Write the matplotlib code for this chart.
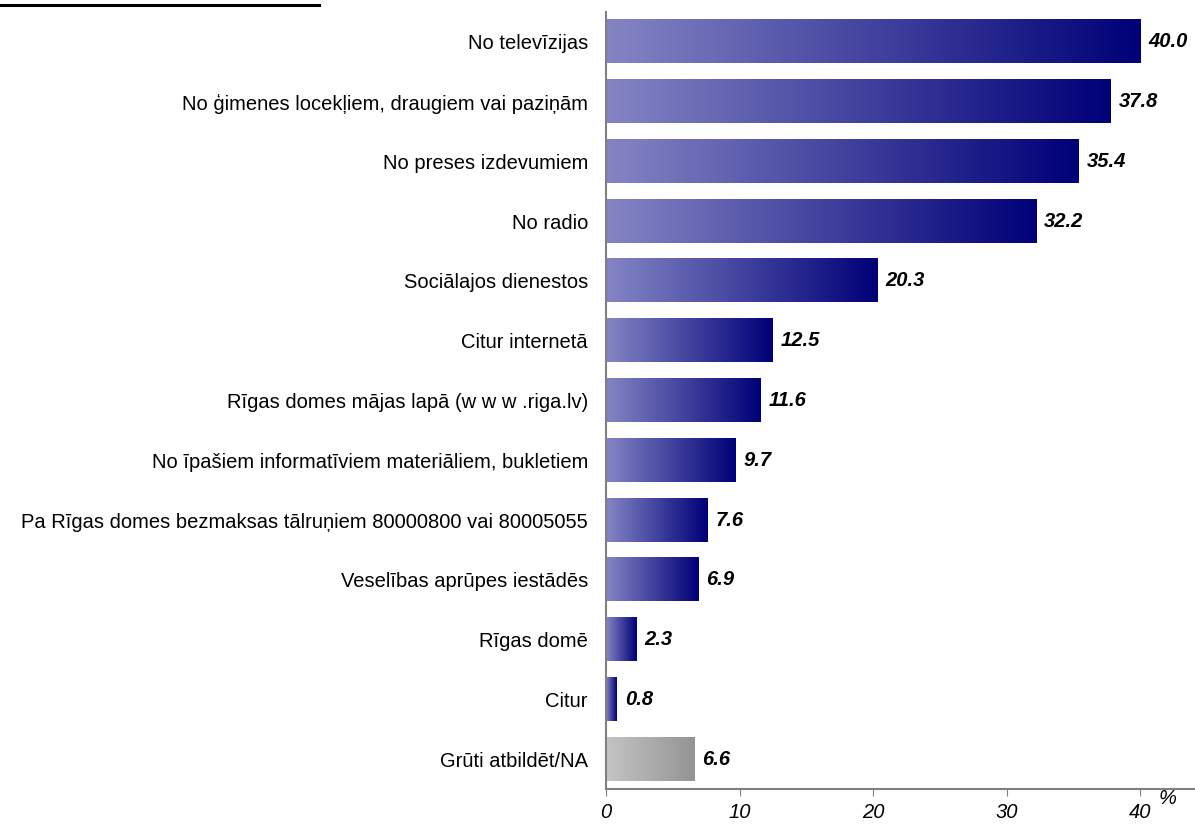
import numpy as np
import matplotlib.pyplot as plt
from matplotlib.lines import Line2D
from matplotlib.colors import LinearSegmentedColormap

plt.rcParams['font.family'] = ['Liberation Sans', 'DejaVu Sans']

categories = [
    'No televīzijas',
    'No ģimenes locekļiem, draugiem vai paziņām',
    'No preses izdevumiem',
    'No radio',
    'Sociālajos dienestos',
    'Citur internetā',
    'Rīgas domes mājas lapā (w w w .riga.lv)',
    'No īpašiem informatīviem materiāliem, bukletiem',
    'Pa Rīgas domes bezmaksas tālruņiem 80000800 vai 80005055',
    'Veselības aprūpes iestādēs',
    'Rīgas domē',
    'Citur',
    'Grūti atbildēt/NA',
]
values = [40.0, 37.8, 35.4, 32.2, 20.3, 12.5, 11.6, 9.7, 7.6, 6.9, 2.3, 0.8, 6.6]
xticks = [0, 10, 20, 30, 40]

blue_cmap = LinearSegmentedColormap.from_list('b', ['#8585c5', '#000078'])
gray_cmap = LinearSegmentedColormap.from_list('g', ['#c4c4c4', '#949494'])

fig = plt.figure(figsize=(11.95, 8.25), dpi=100)
ax = fig.add_axes([606 / 1195, 1 - 789 / 825, 589 / 1195, 777 / 825])

bar_h = 0.72
grad = np.linspace(0, 1, 256).reshape(1, -1)
for i, v in enumerate(values):
    cmap = gray_cmap if i == len(values) - 1 else blue_cmap
    ax.imshow(grad, cmap=cmap, aspect='auto', interpolation='bilinear',
              extent=(0, v, i + bar_h / 2, i - bar_h / 2), zorder=2)
    ax.text(v + 0.6, i, f'{v:.1f}', va='center', ha='left',
            fontsize=14.5, fontweight='bold', fontstyle='italic')

ax.set_xlim(0, 44.1)
ax.set_ylim(12.5, -0.5)
ax.set_yticks(range(len(categories)))
ax.set_yticklabels(categories, fontsize=14.5)
ax.tick_params(axis='y', length=0, pad=13)
ax.set_xticks(xticks)
ax.set_xticklabels([str(t) for t in xticks], fontsize=14.5, fontstyle='italic')
ax.tick_params(axis='x', length=5, color='#808080', pad=5)

for s in ['top', 'right']:
    ax.spines[s].set_visible(False)
for s in ['left', 'bottom']:
    ax.spines[s].set_color('#808080')
    ax.spines[s].set_linewidth(1.5)

fig.text(1168 / 1195, 1 - 798 / 825, '%', fontsize=14.5, fontstyle='italic',
         ha='center', va='center')
fig.add_artist(Line2D([0, 319 / 1195], [1 - 5 / 825, 1 - 5 / 825],
                      color='black', lw=2.2))

fig.savefig('out.png', dpi=100)
